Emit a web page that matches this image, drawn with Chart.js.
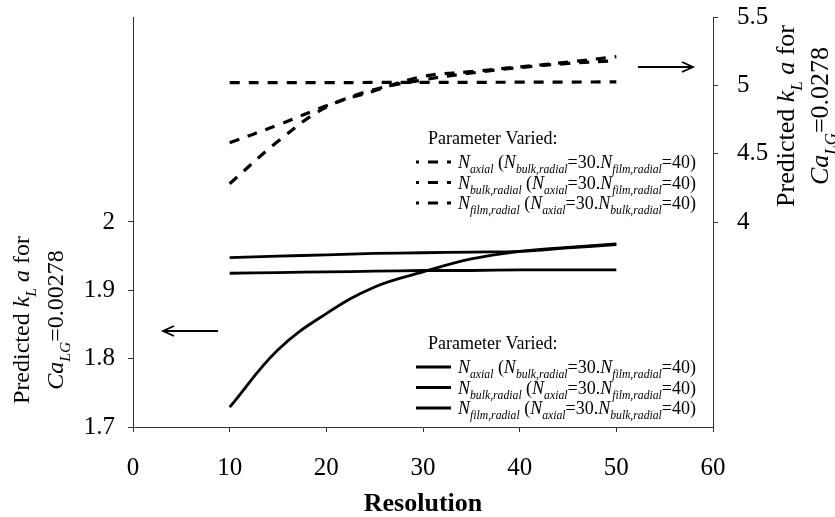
<!DOCTYPE html>
<html>
<head>
<meta charset="utf-8">
<script src="https://cdn.jsdelivr.net/npm/chart.js@4/dist/chart.umd.min.js"></script>
<style>
  html, body { margin: 0; padding: 0; background: #fff; }
  canvas { display: block; }
</style>
</head>
<body>
<canvas id="c" width="835" height="517"></canvas>
<script>
// Grid resolution used for each run
const resolution = [10, 15, 20, 25, 30, 35, 40, 45, 50];

// Predicted kLa for Ca_LG = 0.00278 (left axis, solid lines)
const lowAxial = [1.948, 1.950, 1.952, 1.954, 1.955, 1.956, 1.957, 1.962, 1.967];
const lowBulk  = [1.925, 1.926, 1.927, 1.928, 1.929, 1.929, 1.930, 1.930, 1.930];
const lowFilm  = [1.729, 1.813, 1.866, 1.905, 1.927, 1.946, 1.957, 1.963, 1.968];

// Predicted kLa for Ca_LG = 0.0278 (right axis, dashed lines)
const highAxial = [5.020, 5.020, 5.020, 5.021, 5.022, 5.022, 5.023, 5.024, 5.025];
const highBulk  = [4.580, 4.710, 4.850, 4.970, 5.040, 5.090, 5.130, 5.160, 5.180];
const highFilm  = [4.280, 4.590, 4.840, 4.960, 5.065, 5.100, 5.135, 5.170, 5.210];

// Tick labels that are printed on each axis
const xTickLabels = ['0', '10', '20', '30', '40', '50', '60'];
const leftTickLabels = ['1.7', '1.8', '1.9', '2'];
const rightTickLabels = ['4', '4.5', '5', '5.5'];

const legendHeader = 'Parameter Varied:';
// Legend entries as rich-text runs: [text, kind] with kind r = roman, i = italic, s = italic subscript
const legendEntries = [
  [['N','i'],['axial','s'],[' (','r'],['N','i'],['bulk,radial','s'],['=30.','r'],['N','i'],['film,radial','s'],['=40)','r']],
  [['N','i'],['bulk,radial','s'],[' (','r'],['N','i'],['axial','s'],['=30.','r'],['N','i'],['film,radial','s'],['=40)','r']],
  [['N','i'],['film,radial','s'],[' (','r'],['N','i'],['axial','s'],['=30.','r'],['N','i'],['bulk,radial','s'],['=40)','r']]
];
const leftTitle = [
  [['Predicted ','r'],['k','i'],['L','s'],[' ','r'],['a','i'],[' for','r']],
  [['Ca','i'],['LG','s'],['=0.00278','r']]
];
const rightTitle = [
  [['Predicted ','r'],['k','i'],['L','s'],[' ','r'],['a','i'],[' for','r']],
  [['Ca','i'],['LG','s'],['=0.0278','r']]
];

const SERIF = '"Liberation Serif", "Times New Roman", serif';
const INK = '#000';
const AXIS = '#333';

const pts = arr => resolution.map((x, i) => ({ x, y: arr[i] }));

function runFont(kind, size) {
  const px = kind === 's' ? size * 0.65 : size;
  const style = (kind === 'i' || kind === 's') ? 'italic ' : '';
  return style + px + 'px ' + SERIF;
}
function richWidth(ctx, runs, size) {
  let w = 0;
  for (const [t, k] of runs) { ctx.font = runFont(k, size); w += ctx.measureText(t).width; }
  return w;
}
function drawRich(ctx, runs, x, y, size, align) {
  let cx = align === 'center' ? x - richWidth(ctx, runs, size) / 2 : x;
  ctx.textAlign = 'left';
  ctx.textBaseline = 'alphabetic';
  for (const [t, k] of runs) {
    ctx.font = runFont(k, size);
    ctx.fillText(t, cx, y + (k === 's' ? size * 0.3 : 0));
    cx += ctx.measureText(t).width;
  }
}
function drawArrow(ctx, x0, x1, y) {
  const dir = Math.sign(x1 - x0);
  ctx.beginPath();
  ctx.moveTo(x0, y); ctx.lineTo(x1, y);
  ctx.moveTo(x1 - dir * 11, y - 5); ctx.lineTo(x1, y); ctx.lineTo(x1 - dir * 11, y + 5);
  ctx.stroke();
}

// Legends, rotated axis titles and pointer arrows
const annotations = {
  id: 'annotations',
  afterDraw(chart) {
    const ctx = chart.ctx;
    const ds = chart.data.datasets;
    ctx.save();
    ctx.fillStyle = INK;
    ctx.strokeStyle = INK;

    const legendSize = 18;
    const blocks = [
      { top: 144, items: [0, 1, 2] },
      { top: 349, items: [3, 4, 5] }
    ];
    for (const b of blocks) {
      ctx.font = legendSize + 'px ' + SERIF;
      ctx.textAlign = 'left';
      ctx.textBaseline = 'alphabetic';
      ctx.fillText(legendHeader, 428, b.top);
      b.items.forEach((di, row) => {
        const base = b.top + 24 + row * 20.5;
        const mid = base - 6;
        ctx.save();
        ctx.lineWidth = ds[di].borderWidth;
        ctx.setLineDash(ds[di].borderDash || []);
        ctx.lineDashOffset = ds[di].borderDash ? 7 : 0;
        ctx.beginPath();
        ctx.moveTo(416, mid); ctx.lineTo(451, mid);
        ctx.stroke();
        ctx.restore();
        drawRich(ctx, legendEntries[row], 458, base, legendSize, 'left');
      });
    }

    // Axis titles (two lines, rotated)
    const titles = [
      { lines: leftTitle, xs: [29, 63], cy: 320, size: 24 },
      { lines: rightTitle, xs: [794, 828], cy: 116, size: 26 }
    ];
    for (const t of titles) {
      t.lines.forEach((runs, i) => {
        ctx.save();
        ctx.translate(t.xs[i], t.cy);
        ctx.rotate(-Math.PI / 2);
        drawRich(ctx, runs, 0, 0, t.size, 'center');
        ctx.restore();
      });
    }

    // Arrows pointing to the axis each family belongs to
    ctx.lineWidth = 1.8;
    drawArrow(ctx, 638, 693, 67);
    drawArrow(ctx, 218, 163, 331);
    ctx.restore();
  }
};

const dashed = [10, 9];
const datasets = [
  { label: 'N_axial', data: pts(highAxial), yAxisID: 'y2', borderDash: dashed },
  { label: 'N_bulk,radial', data: pts(highBulk), yAxisID: 'y2', borderDash: dashed },
  { label: 'N_film,radial', data: pts(highFilm), yAxisID: 'y2', borderDash: dashed },
  { label: 'N_axial', data: pts(lowAxial), yAxisID: 'y' },
  { label: 'N_bulk,radial', data: pts(lowBulk), yAxisID: 'y' },
  { label: 'N_film,radial', data: pts(lowFilm), yAxisID: 'y' }
].map(d => Object.assign({
  borderColor: INK,
  backgroundColor: INK,
  borderWidth: d.borderDash ? 3.2 : 2.8,
  pointRadius: 0,
  tension: 0.4,
  fill: false
}, d));

const tickFont = { family: SERIF, size: 25 };
const tickShown = (list, fmt) => ctx => list.includes(fmt(ctx.tick.value)) ? AXIS : 'rgba(0,0,0,0)';
const fmtX = v => String(Math.round(v));
const fmtL = v => String(Math.round(v * 10) / 10);
const fmtR = v => String(Math.round(v * 2) / 2);

// vertical axes: fixed width, no extra room reserved above/below for end labels
const fitVertical = w => s => { s.width = w; s.paddingTop = 0; s.paddingBottom = 0; };

new Chart(document.getElementById('c'), {
  type: 'line',
  data: { datasets },
  plugins: [annotations],
  options: {
    responsive: false,
    devicePixelRatio: 1,
    animation: false,
    layout: { padding: { top: 17, left: 0, right: 0, bottom: 0 } },
    plugins: { legend: { display: false }, tooltip: { enabled: false } },
    scales: {
      x: {
        type: 'linear', position: 'bottom', min: 0, max: 60,
        afterFit: s => { s.height = 90; },
        ticks: {
          stepSize: 10, font: tickFont, color: INK, padding: 21, maxRotation: 0,
          callback: v => xTickLabels.includes(fmtX(v)) ? fmtX(v) : ''
        },
        grid: { drawOnChartArea: false, drawTicks: true, tickLength: 5, tickColor: AXIS },
        border: { display: true, color: AXIS, width: 1 },
        title: {
          display: true, text: 'Resolution', color: INK,
          font: { family: SERIF, size: 26, weight: 'bold' },
          padding: { top: 0, bottom: -3 }
        }
      },
      y: {
        type: 'linear', position: 'left', min: 1.7, max: 2.3,
        afterFit: fitVertical(133),
        ticks: {
          stepSize: 0.1, font: tickFont, color: INK, padding: 13,
          callback: v => leftTickLabels.includes(fmtL(v)) ? fmtL(v) : ''
        },
        grid: { drawOnChartArea: false, drawTicks: true, tickLength: 5, tickColor: tickShown(leftTickLabels, fmtL) },
        border: { display: true, color: AXIS, width: 1 }
      },
      y2: {
        type: 'linear', position: 'right', min: 2.5, max: 5.5,
        afterFit: fitVertical(122),
        ticks: {
          stepSize: 0.5, font: tickFont, color: INK, padding: 19,
          callback: v => rightTickLabels.includes(fmtR(v)) ? fmtR(v) : ''
        },
        grid: { drawOnChartArea: false, drawTicks: true, tickLength: 5, tickColor: tickShown(rightTickLabels, fmtR) },
        border: { display: true, color: AXIS, width: 1 }
      }
    }
  }
});
</script>
</body>
</html>
